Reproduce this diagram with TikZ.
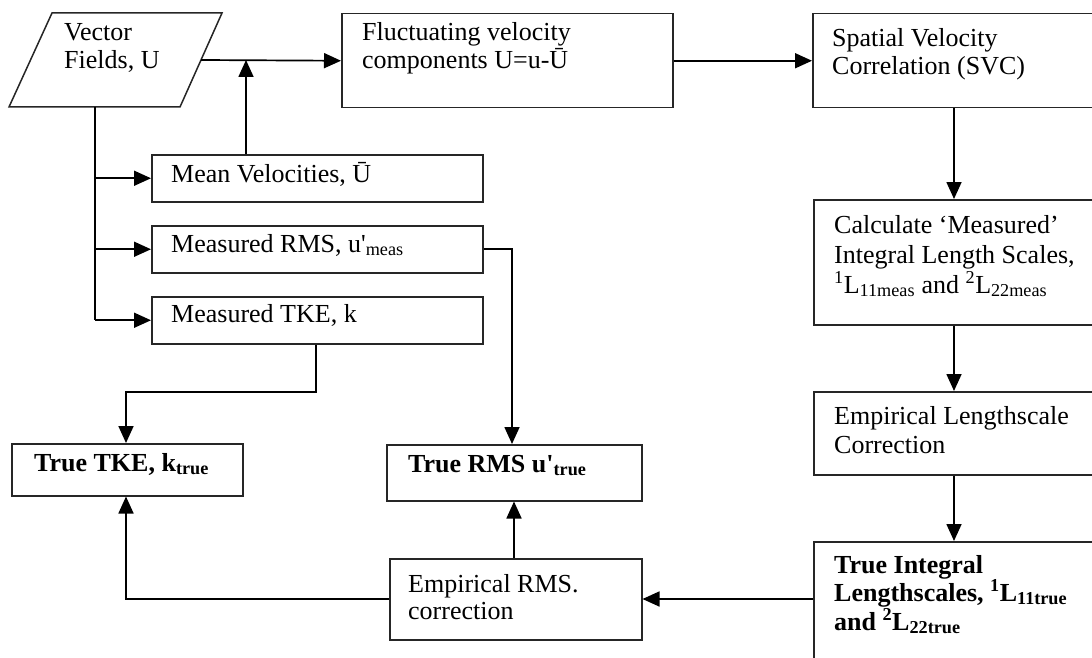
\documentclass[tikz,border=0pt]{standalone}
\usepackage{fontspec}
\setmainfont{Liberation Serif}[Ligatures=TeXOff]
\usetikzlibrary{arrows.meta}
\begin{document}
\begin{tikzpicture}[x=1pt,y=-1pt,
  box/.style={draw=black!85, line width=1.5pt, rectangle, inner sep=0pt, anchor=north west},
  txt/.style={anchor=base west, inner sep=0pt, font=\fontsize{26}{29}\selectfont},
  btxt/.style={txt, font=\fontsize{26}{29}\selectfont\bfseries},
  arr/.style={line width=1.7pt, -{Triangle[length=17pt,width=15pt]}},
  ln/.style={line width=1.7pt}]
\clip (0,0) rectangle (1092,658);
% parallelogram (input shape)
\draw[draw=black!85, line width=1.5pt, line join=miter] (52,13) -- (222,13) -- (180,107) -- (9,107) -- cycle;
\coordinate (vfE) at (201,60);
\coordinate (vfS) at (95,107);
% boxes
\node[box, minimum width=331pt, minimum height=94pt] (fl) at (341,13) {};
\node[box, minimum width=290pt, minimum height=94pt] (svc) at (812,13) {};
\node[box, minimum width=290pt, minimum height=125pt] (calc) at (813,199) {};
\node[box, minimum width=290pt, minimum height=83pt] (empl) at (813,391) {};
\node[box, minimum width=290pt, minimum height=160pt] (ti) at (813,541) {};
\node[box, minimum width=331pt, minimum height=47pt] (mv) at (151,154) {};
\node[box, minimum width=331pt, minimum height=47pt] (mr) at (151,225) {};
\node[box, minimum width=331pt, minimum height=47pt] (mt) at (151,296) {};
\node[box, minimum width=231pt, minimum height=52pt] (tt) at (11,443) {};
\node[box, minimum width=255pt, minimum height=56pt] (tr) at (386,444) {};
\node[box, minimum width=252pt, minimum height=81pt] (er) at (389,558) {};
% texts
\node[txt] (vf1) at (64,41) {Vector};
\node[txt] (vf2) at (64,69) {Fields, U};
\node[txt] (fl1) at (362,41) {Fluctuating velocity};
\node[txt] (fl2) at (362,69) {components U=u-Ū};
\node[txt] (svc1) at (832,47) {Spatial Velocity};
\node[txt] (svc2) at (832,75) {Correlation (SVC)};
\node[txt] (calc1) at (834,233) {Calculate ‘Measured’};
\node[txt] (calc2) at (834,263) {Integral Length Scales,};
\node[txt] (calc3) at (834,293) {\textsuperscript{1}L\textsubscript{11meas} and \textsuperscript{2}L\textsubscript{22meas}};
\node[txt] (empl1) at (834,424) {Empirical Lengthscale};
\node[txt] (empl2) at (834,453) {Correction};
\node[btxt] (ti1) at (834,573) {True Integral};
\node[btxt] (ti2) at (834,601) {Lengthscales, \textsuperscript{1}L\textsubscript{11true}};
\node[btxt] (ti3) at (834,630) {and \textsuperscript{2}L\textsubscript{22true}};
\node[txt] (mv1) at (171,182) {Mean Velocities, Ū};
\node[txt] (mr1) at (171,252) {Measured RMS, u'\textsubscript{meas}};
\node[txt] (mt1) at (171,322) {Measured TKE, k};
\node[btxt] (tt1) at (34,471) {True TKE, k\textsubscript{true}};
\node[btxt] (tr1) at (408,472) {True RMS u'\textsubscript{true}};
\node[txt] (er1) at (408,592) {Empirical RMS.};
\node[txt] (er2) at (408,619) {correction};
% helper coordinates
\coordinate (jn) at (246,60);
\coordinate (cx) at (954,0);
\coordinate (ry) at (0,599);
\coordinate (rx) at (514,0);
\coordinate (kx) at (126,0);
\coordinate (ex) at (316,0);
\coordinate (ey) at (0,392);
\coordinate (mx) at (512,0);
\coordinate (tx) at (95,0);
% connectors
\draw[arr] (vfE) -- (fl.west);
\draw[arr] (mv.north -| jn) -- (jn);
\draw[arr] (fl.east) -- (svc.west);
\draw[arr] (svc.south -| cx) -- (calc.north -| cx);
\draw[arr] (calc.south -| cx) -- (empl.north -| cx);
\draw[arr] (empl.south -| cx) -- (ti.north -| cx);
\draw[arr] (ti.west |- ry) -- (er.east |- ry);
\draw[arr] (er.north -| rx) -- (tr.south -| rx);
\draw[arr] (er.west |- ry) -| (tt.south -| kx);
\draw[arr] (mt.south -| ex) -- (ex |- ey) -| (tt.north -| kx);
\draw[arr] (mr.east) -| (tr.north -| mx);
\draw[ln] (vfS) -- (mt.west -| tx);
\draw[arr] (mv.west -| tx) -- (mv.west);
\draw[arr] (mr.west -| tx) -- (mr.west);
\draw[arr] (mt.west -| tx) -- (mt.west);
\end{tikzpicture}
\end{document}
